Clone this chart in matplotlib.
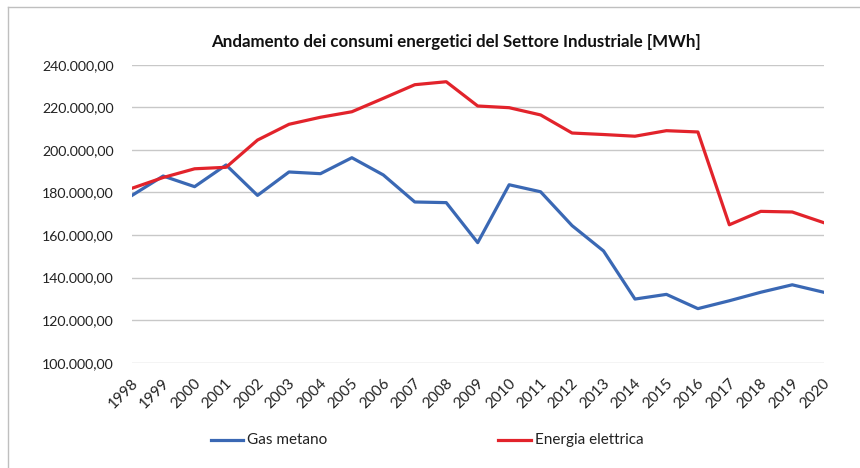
import matplotlib
matplotlib.use("Agg")
import matplotlib.pyplot as plt
import matplotlib.transforms as mtransforms
from matplotlib.ticker import FuncFormatter
from matplotlib.lines import Line2D

years = [str(y) for y in range(1998, 2021)]
gas_metano = [178.5, 187.7, 182.7, 192.9, 178.6, 189.6, 188.8, 196.3, 188.2, 175.5, 175.2, 156.4,
              183.6, 180.3, 164.4, 152.5, 129.9, 132.1, 125.4, 129.1, 133.1, 136.6, 133.1]
energia_elettrica = [181.9, 187.0, 191.1, 191.8, 204.6, 212.0, 215.3, 217.9, 224.2, 230.6, 232.0, 220.6,
                     219.8, 216.4, 207.9, 207.2, 206.4, 209.0, 208.4, 164.8, 171.1, 170.8, 165.8]
gas_metano = [v * 1000 for v in gas_metano]
energia_elettrica = [v * 1000 for v in energia_elettrica]
series_names = ["Gas metano", "Energia elettrica"]
title = "Andamento dei consumi energetici del Settore Industriale [MWh]"

plt.rcParams['font.family'] = ['Lato', 'DejaVu Sans']

W, H = 860, 468
fig = plt.figure(figsize=(W / 100, H / 100), dpi=100)
x0, x1 = 131.7, 823.7
y0, y1 = 64.7, 362.7
ax = fig.add_axes([x0 / W, 1 - y1 / H, (x1 - x0) / W, (y1 - y0) / H])

blue = '#3A68B4'
red = '#E2232B'
colors = [blue, red]
xs = list(range(len(years)))
ax.plot(xs, gas_metano, color=blue, lw=2.3, solid_joinstyle='round', zorder=3)
ax.plot(xs, energia_elettrica, color=red, lw=2.3, solid_joinstyle='round', zorder=3)

ax.set_xlim(0, len(years) - 1)
ax.set_ylim(100000, 240000)
ax.set_yticks(range(100000, 240001, 20000))


def fmt(v, pos):
    s = f"{v:,.2f}"
    return s.replace(",", "X").replace(".", ",").replace("X", ".")


ax.yaxis.set_major_formatter(FuncFormatter(fmt))
ax.grid(axis='y', color='#C8C8C8', lw=1.0)
ax.set_axisbelow(True)
for sp in ax.spines.values():
    sp.set_visible(False)
ax.tick_params(axis='y', length=0, pad=13, labelsize=10.2, labelcolor='#222222')
ax.set_xticks(xs)
ax.set_xticklabels(years, rotation=45, ha='right', va='center', rotation_mode='anchor',
                   fontsize=11, color='#222222')
ax.tick_params(axis='x', length=0, pad=13)
offset = mtransforms.ScaledTranslation(4 / 100, 0, fig.dpi_scale_trans)
for lab in ax.get_xticklabels():
    lab.set_transform(lab.get_transform() + offset)

fig.text(456 / W, 1 - 42 / H, title, ha='center', va='center', fontsize=12.2,
         fontweight='bold', color='#111111')

# legend (placed manually)
leg_y = 1 - 440 / H
for (hx0, hx1, tx), name, c in zip([(211, 243, 247), (498, 531, 535)], series_names, colors):
    fig.add_artist(Line2D([hx0 / W, hx1 / W], [leg_y, leg_y], color=c, lw=2.3))
    fig.text(tx / W, leg_y, name, ha='left', va='center', fontsize=11, color='#222222')

# chart border (top and left visible)
fig.add_artist(Line2D([8 / W, 8 / W], [0, 1 - 7 / H], color='#BFBFBF', lw=1.0))
fig.add_artist(Line2D([8 / W, 1], [1 - 7 / H, 1 - 7 / H], color='#BFBFBF', lw=1.0))

fig.savefig("out.png", dpi=100)
